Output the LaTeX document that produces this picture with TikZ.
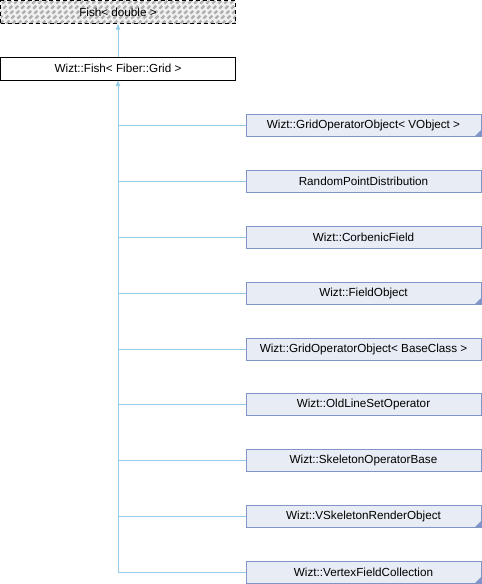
\documentclass[tikz,border=0pt]{standalone}
\usepackage{fontspec}
\setmainfont{Liberation Sans}
\usetikzlibrary{arrows.meta}
\definecolor{boxfill}{RGB}{232,236,245}
\definecolor{boxline}{RGB}{128,148,200}
\definecolor{edgecol}{RGB}{148,204,234}
\definecolor{hatchbg}{RGB}{240,240,240}
\definecolor{hatchfg}{RGB}{175,175,175}
\tikzset{
  every node/.style={font=\fontsize{11.7}{14}\selectfont, inner sep=0pt, outer sep=0pt},
  classbox/.style={draw=boxline, fill=boxfill, line width=0.9pt, minimum width=235pt, minimum height=22pt, anchor=north west},
  mainbox/.style={draw=black, fill=white, line width=0.9pt, minimum width=235pt, minimum height=23pt, anchor=north west},
  extbox/.style={draw=black, dashed, dash pattern=on 4pt off 3pt, line width=0.9pt, minimum width=235pt, minimum height=23pt, anchor=north west,
    path picture={\fill[hatchbg] (path picture bounding box.south west) rectangle (path picture bounding box.north east);
      \foreach \k in {0,6,...,270} {\draw[hatchfg, line width=2.2pt] ([xshift=\k pt-30pt]path picture bounding box.south west) -- ++(30pt,30pt);}}},
  withsub/.style={path picture={\fill[boxline] (path picture bounding box.south east) -- ++(-6pt,0pt) -- ++(6pt,6pt) -- cycle;}},
  edge/.style={draw=edgecol, line width=0.9pt},
  arr/.style={-{Latex[length=6pt,width=5pt]}}
}
\begin{document}
\begin{tikzpicture}[x=1pt,y=-1pt]
\useasboundingbox (0,0) rectangle (482,584);
\node[extbox] (fd) at (0.5,0.5) {};
\node at (fd.center) {Fish< double >};
\node[mainbox] (fg) at (0.5,57) {Wizt::Fish< Fiber::Grid >};
\draw[edge,arr] (fg.north) -- (fd.south);
\node[classbox,withsub] (c1) at (246,114) {Wizt::GridOperatorObject< VObject >};
\node[classbox] (c2) at (246,170) {RandomPointDistribution};
\node[classbox] (c3) at (246,226) {Wizt::CorbenicField};
\node[classbox,withsub] (c4) at (246,282) {Wizt::FieldObject};
\node[classbox] (c5) at (246,338) {Wizt::GridOperatorObject< BaseClass >};
\node[classbox] (c6) at (246,393.5) {Wizt::OldLineSetOperator};
\node[classbox] (c7) at (246,449.5) {Wizt::SkeletonOperatorBase};
\node[classbox,withsub] (c8) at (246,505) {Wizt::VSkeletonRenderObject};
\node[classbox,withsub] (c9) at (246,561) {Wizt::VertexFieldCollection};
\draw[edge,arr] (c9.west) -| (fg.south);
\foreach \c in {c1,c2,c3,c4,c5,c6,c7,c8} {\draw[edge] (\c.west) -- (\c.west -| fg.south);}
\end{tikzpicture}
\end{document}
